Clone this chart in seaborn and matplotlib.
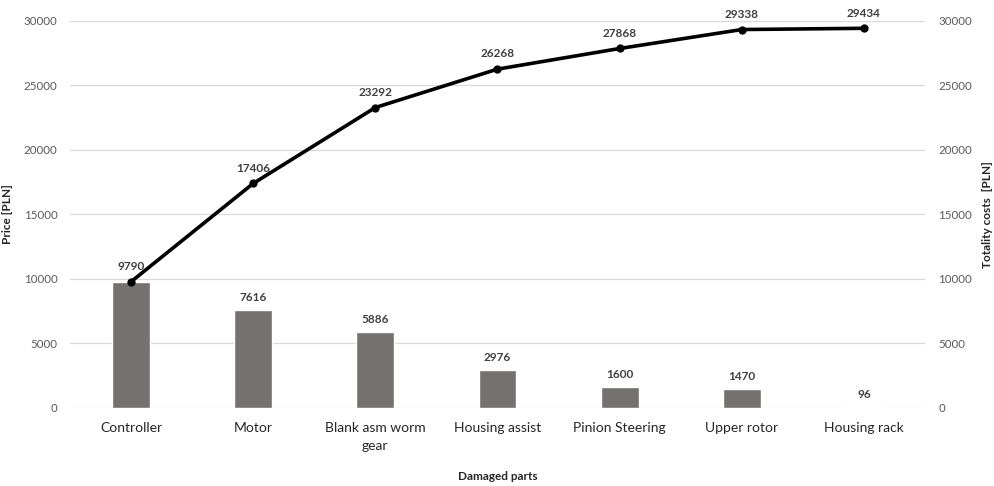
import matplotlib
matplotlib.use("Agg")
import matplotlib.pyplot as plt
import seaborn as sns
import pandas as pd

parts = ["Controller", "Motor", "Blank asm worm\ngear", "Housing assist",
         "Pinion Steering", "Upper rotor", "Housing rack"]
price = [9790, 7616, 5886, 2976, 1600, 1470, 96]
cumulative = [9790, 17406, 23292, 26268, 27868, 29338, 29434]
y_ticks = [0, 5000, 10000, 15000, 20000, 25000, 30000]

df = pd.DataFrame({"part": parts, "price": price, "cumulative": cumulative})

sns.set_theme(style="white")
plt.rcParams["font.family"] = ["Lato", "DejaVu Sans"]

fig = plt.figure(figsize=(9.94, 4.86), dpi=100)
ax = fig.add_axes([0.0704, 0.1605, 0.8602, 0.7963])

tick_color = "#595959"
text_color = "#404040"
label_color = "#262626"

sns.barplot(data=df, x="part", y="price", color="#767171", width=0.31,
            saturation=1, ax=ax, zorder=2)
ax.set_ylim(0, 30000)
ax.set_xlim(-0.5, len(parts) - 0.5)
ax.set_yticks(y_ticks)
ax.grid(axis="y", color="#d9d9d9", linewidth=0.9, zorder=0)
ax.set_axisbelow(True)
for s in ax.spines.values():
    s.set_visible(False)
ax.tick_params(axis="y", length=0, labelsize=8.3, colors=tick_color, pad=9)
ax.tick_params(axis="x", length=0, labelsize=10, labelcolor=label_color, pad=10)
for t in ax.get_xticklabels():
    t.set_linespacing(1.6)
ax.set_ylabel("Price [PLN]", fontsize=8.5, fontweight="bold", color=label_color, labelpad=8)
ax.set_xlabel("Damaged parts", fontsize=8.5, fontweight="bold", color=label_color, labelpad=14)

# The first bar's value coincides with the first cumulative point, so one label serves both
bar_labels = [str(v) if i > 0 else "" for i, v in enumerate(price)]
for c in ax.containers:
    ax.bar_label(c, labels=bar_labels, padding=5, fontsize=8.5,
                 fontweight="bold", color=text_color)

ax2 = ax.twinx()
sns.pointplot(data=df, x="part", y="cumulative", color="black", markers="o",
              linestyles="-", markersize=4, linewidth=2.6, ax=ax2, zorder=3)
ax2.set_ylim(0, 30000)
ax2.set_xlim(-0.5, len(parts) - 0.5)
ax2.set_yticks(y_ticks)
for s in ax2.spines.values():
    s.set_visible(False)
ax2.tick_params(axis="y", length=0, labelsize=8.3, colors=tick_color, pad=9.5)
ax2.set_ylabel("Totality costs  [PLN]", fontsize=8.5, fontweight="bold", color=label_color,
               labelpad=7)
for i, v in enumerate(cumulative):
    ax2.annotate(str(v), (i, v), xytext=(0, 7), textcoords="offset points",
                 ha="center", va="bottom", fontsize=8.5, fontweight="bold",
                 color=text_color)

fig.savefig("out.png", dpi=100)
